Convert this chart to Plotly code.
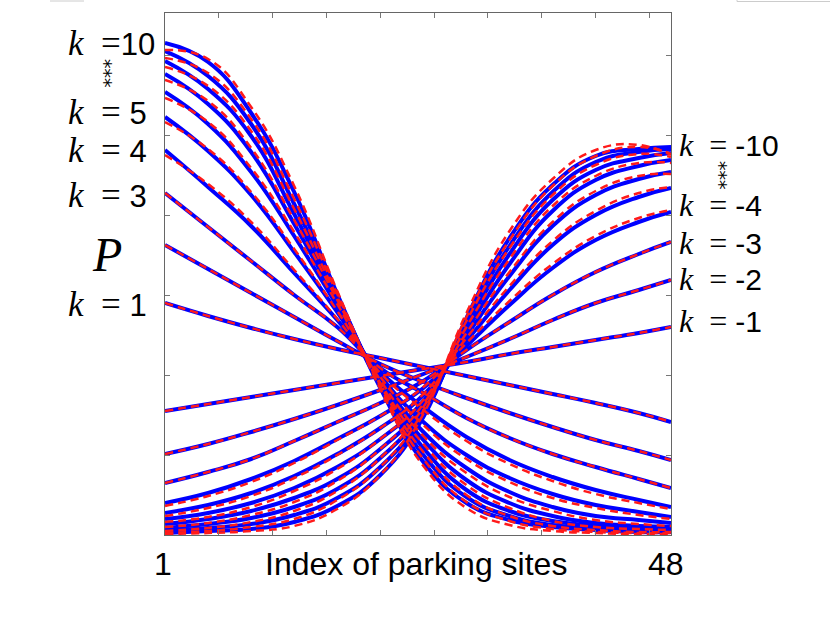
import plotly.graph_objects as go

# parking site index at which the curves were read
site = [1, 5, 9, 13, 17, 21, 25, 29, 33, 37, 41, 45, 48]

# P in units of 1e-3, blue solid curves, k = 1 .. 10
b_p1 = [23.2, 21.9, 20.7, 19.6, 18.6, 17.7, 16.8, 15.9, 15.0, 14.1, 13.2, 12.2, 11.3]
b_p2 = [29.0, 26.6, 24.2, 21.8, 19.4, 17.1, 15.3, 13.7, 12.2, 10.8, 9.5, 8.4, 7.5]
b_p3 = [34.2, 30.8, 27.4, 24.0, 20.8, 16.7, 14.2, 11.7, 9.7, 8.1, 6.8, 5.6, 4.7]
b_p4 = [38.5, 34.8, 30.9, 26.2, 21.5, 16.3, 12.8, 9.8, 7.5, 5.8, 4.5, 3.5, 2.8]
b_p5 = [41.8, 38.4, 34.0, 28.3, 22.3, 15.9, 11.3, 8.0, 5.7, 4.1, 3.0, 2.3, 1.8]
b_p6 = [44.3, 41.1, 36.3, 29.9, 22.9, 15.6, 10.3, 6.7, 4.3, 2.8, 1.9, 1.5, 1.2]
b_p7 = [46.1, 43.1, 38.3, 31.1, 23.3, 15.3, 9.5, 5.5, 3.2, 1.9, 1.2, 0.9, 0.8]
b_p8 = [47.4, 44.6, 39.9, 32.1, 23.6, 15.1, 8.7, 4.5, 2.4, 1.4, 0.9, 0.7, 0.6]
b_p9 = [48.4, 45.9, 41.1, 33.1, 23.9, 14.9, 8.0, 3.8, 1.9, 1.0, 0.7, 0.5, 0.4]
b_p10 = [49.2, 47.3, 42.2, 34.3, 24.1, 14.7, 7.3, 3.2, 1.5, 0.8, 0.5, 0.3, 0.3]

# blue solid curves, k = -1 .. -10
b_m1 = [12.4, 13.1, 13.8, 14.5, 15.2, 15.9, 16.6, 17.3, 18.1, 18.8, 19.5, 20.2, 20.8]
b_m2 = [8.1, 9.1, 10.3, 11.6, 13.0, 14.5, 16.1, 17.8, 19.6, 21.5, 23.2, 24.5, 25.5]
b_m3 = [5.2, 6.3, 7.6, 9.4, 11.3, 13.2, 15.4, 18.5, 21.3, 24.0, 26.3, 28.1, 29.3]
b_m4 = [3.2, 4.2, 5.6, 7.4, 9.6, 11.9, 14.7, 18.9, 23.0, 26.7, 29.5, 31.3, 32.3]
b_m5 = [2.2, 3.0, 4.2, 5.9, 8.1, 10.7, 14.0, 19.4, 24.5, 29.0, 32.0, 33.8, 34.7]
b_m6 = [1.6, 2.2, 3.2, 4.7, 6.8, 9.6, 13.4, 19.9, 25.9, 30.9, 34.0, 35.6, 36.3]
b_m7 = [1.1, 1.6, 2.4, 3.7, 5.6, 8.6, 12.9, 20.4, 27.1, 32.4, 35.5, 36.9, 37.5]
b_m8 = [0.7, 1.1, 1.7, 2.8, 4.6, 7.7, 12.5, 20.9, 28.1, 33.5, 36.5, 37.7, 38.2]
b_m9 = [0.4, 0.7, 1.1, 2.0, 3.7, 6.8, 12.1, 21.3, 28.9, 34.3, 37.3, 38.3, 38.6]
b_m10 = [0.2, 0.4, 0.6, 1.3, 2.9, 6.0, 11.8, 21.7, 29.7, 35.0, 37.9, 38.6, 38.8]

# red dashed curves (where they differ visibly from the blue ones)
r_p4 = [38.0, 35.1, 31.3, 26.5, 21.6, 16.2, 12.5, 9.4, 7.1, 5.4, 4.1, 3.2, 2.6]
r_p5 = [41.3, 38.6, 34.3, 28.6, 22.4, 15.8, 11.0, 7.6, 5.3, 3.7, 2.7, 2.0, 1.6]
r_p6 = [43.7, 41.3, 36.7, 30.3, 23.1, 15.5, 9.9, 6.2, 3.8, 2.4, 1.5, 1.1, 0.9]
r_p7 = [45.5, 43.4, 38.7, 31.5, 23.5, 15.2, 9.1, 5.0, 2.7, 1.4, 0.8, 0.6, 0.5]
r_p8 = [46.8, 44.9, 40.4, 32.6, 23.8, 15.0, 8.3, 4.0, 1.9, 0.9, 0.5, 0.3, 0.3]
r_p9 = [47.7, 46.2, 41.6, 33.6, 24.1, 14.8, 7.6, 3.3, 1.4, 0.6, 0.3, 0.2, 0.2]
r_p10 = [48.5, 47.6, 42.8, 34.9, 24.4, 14.6, 6.9, 2.7, 1.0, 0.4, 0.2, 0.1, 0.1]
r_m4 = [2.9, 3.9, 5.3, 7.2, 9.5, 11.9, 14.8, 19.2, 23.4, 27.1, 29.9, 31.7, 32.5]
r_m5 = [1.9, 2.7, 3.9, 5.7, 8.0, 10.7, 14.1, 19.7, 24.9, 29.4, 32.4, 34.2, 34.8]
r_m6 = [1.3, 1.8, 2.8, 4.4, 6.6, 9.6, 13.5, 20.2, 26.3, 31.3, 34.4, 35.9, 36.1]
r_m7 = [0.8, 1.2, 2.0, 3.3, 5.4, 8.6, 13.1, 20.8, 27.6, 32.9, 35.9, 37.2, 37.2]
r_m8 = [0.4, 0.7, 1.3, 2.4, 4.4, 7.7, 12.8, 21.4, 28.7, 34.0, 37.0, 38.1, 37.8]
r_m9 = [0.2, 0.4, 0.8, 1.6, 3.5, 6.8, 12.4, 21.8, 29.5, 34.9, 37.9, 38.8, 38.1]
r_m10 = [0.1, 0.2, 0.4, 0.9, 2.6, 6.0, 12.1, 22.2, 30.4, 35.6, 38.5, 39.0, 38.0]

blue = [b_p1, b_p2, b_p3, b_p4, b_p5, b_p6, b_p7, b_p8, b_p9, b_p10,
        b_m1, b_m2, b_m3, b_m4, b_m5, b_m6, b_m7, b_m8, b_m9, b_m10]
red = [b_p1, b_p2, b_p3, r_p4, r_p5, r_p6, r_p7, r_p8, r_p9, r_p10,
       b_m1, b_m2, b_m3, r_m4, r_m5, r_m6, r_m7, r_m8, r_m9, r_m10]

left_labels = ['10', '5', '4', '3', '1']
left_y = [44, 113, 150, 195, 304]
right_labels = ['-10', '-4', '-3', '-2', '-1']
right_y = [145, 205, 243, 279, 321]

fig = go.Figure()
for vals in blue:
    fig.add_trace(go.Scatter(x=site, y=[v / 1000 for v in vals], mode='lines',
                             line=dict(color='#0000ff', width=4, shape='spline', smoothing=1.3),
                             hoverinfo='skip'))
for vals in red:
    fig.add_trace(go.Scatter(x=site, y=[v / 1000 for v in vals], mode='lines',
                             line=dict(color='#ff1a1a', width=2.5, dash='8px,5px',
                                       shape='spline', smoothing=1.3),
                             hoverinfo='skip'))


# plot area spans 165..671 px horizontally and 13..535 px vertically
def ax(px):
    return (px - 165) / 506


def ay(py):
    return (535 - py) / 522


sans = 'Liberation Sans, Arial, sans-serif'
serif_left = '<span style="font-family:Liberation Serif;font-size:35px">'
serif_right = '<span style="font-family:Liberation Serif;font-size:32px">'

ann = []
for lab, py in zip(left_labels, left_y):
    gap = '' if len(lab) > 1 else '&nbsp;'
    txt = serif_left + '<i>k</i>&nbsp;&nbsp;=</span>' + gap + lab
    ann.append(dict(x=ax(66), y=ay(py), text=txt, xanchor='left', yanchor='middle',
                    font=dict(family=sans, size=31, color='black')))
for lab, py in zip(right_labels, right_y):
    txt = serif_right + '<i>k</i>&nbsp;&nbsp;=&nbsp;</span>' + lab
    ann.append(dict(x=ax(677), y=ay(py), text=txt, xanchor='left', yanchor='middle',
                    font=dict(family=sans, size=30, color='black')))
# stacked asterisks (rotated so that they sit one above the other)
for px, py in [(105, 73), (720, 175)]:
    ann.append(dict(x=ax(px), y=ay(py), text='***', textangle=90, xanchor='center',
                    yanchor='middle', font=dict(family='DejaVu Sans', size=19, color='black')))
ann.append(dict(x=ax(107), y=ay(254), text='<i>P</i>', xanchor='center', yanchor='middle',
                font=dict(family='Liberation Serif, serif', size=48, color='black')))
ann.append(dict(x=ax(416), y=ay(564), text='Index of parking sites', xanchor='center',
                yanchor='middle', font=dict(family=sans, size=32, color='black')))
ann.append(dict(x=ax(163), y=ay(564), text='1', xanchor='center', yanchor='middle',
                font=dict(family=sans, size=32, color='black')))
ann.append(dict(x=ax(666), y=ay(564), text='48', xanchor='center', yanchor='middle',
                font=dict(family=sans, size=32, color='black')))
for a in ann:
    a.update(xref='paper', yref='paper', showarrow=False)

fig.update_layout(
    width=830, height=623,
    margin=dict(l=165, r=159, t=13, b=88),
    paper_bgcolor='white', plot_bgcolor='white',
    showlegend=False,
    annotations=ann,
    shapes=[
        dict(type='line', xref='paper', yref='paper', x0=ax(50), x1=ax(84),
             y0=ay(1), y1=ay(1), line=dict(color='#cccccc', width=1)),
        dict(type='rect', xref='paper', yref='paper', x0=ax(737), x1=ax(832),
             y0=ay(1.5), y1=ay(-5), line=dict(color='#cccccc', width=1)),
    ],
)
fig.update_xaxes(range=[1, 48], tickvals=[1, 6, 11, 16, 21, 26, 31, 36, 41, 46],
                 showticklabels=False, ticks='inside', ticklen=5, tickcolor='#777',
                 showline=True, linecolor='#666', linewidth=1, mirror='ticks',
                 showgrid=False, zeroline=False)
fig.update_yaxes(range=[0, 0.0522], tickvals=[0, 0.008, 0.016, 0.024, 0.032, 0.040, 0.048],
                 showticklabels=False, ticks='inside', ticklen=5, tickcolor='#777',
                 showline=True, linecolor='#666', linewidth=1, mirror='ticks',
                 showgrid=False, zeroline=False)

fig.write_html("out.html", config={'displayModeBar': False},
               post_script="document.body.style.margin='0';")
